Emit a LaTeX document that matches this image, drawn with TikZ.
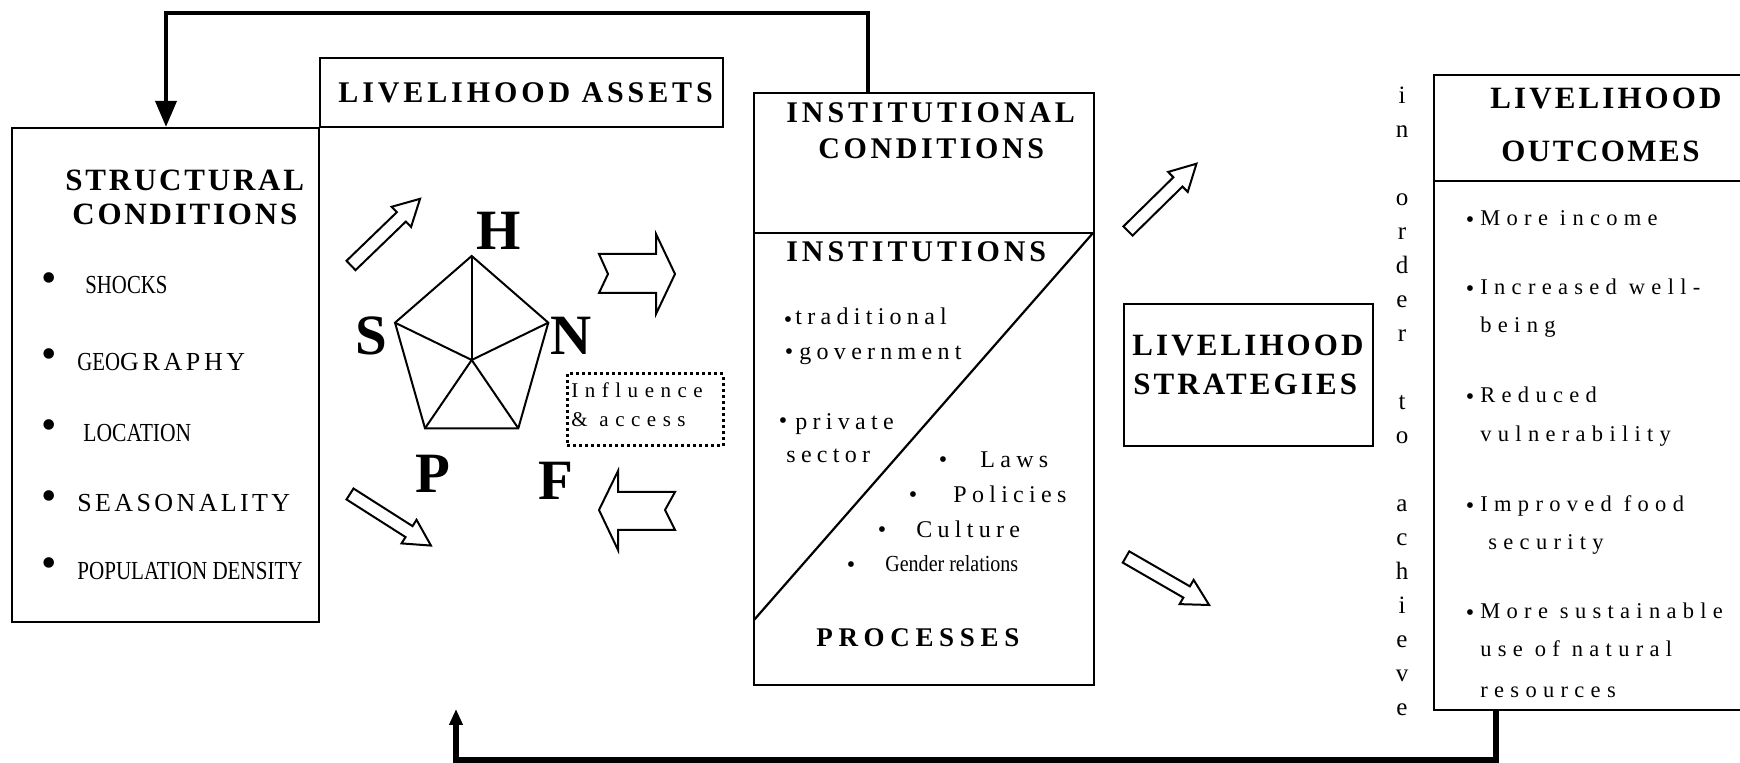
\documentclass[tikz,border=0pt]{standalone}
\usepackage{fontspec}
\setmainfont{Liberation Serif}
\usepackage{graphicx}
\usetikzlibrary{arrows.meta,fit,calc}
\newcommand\hfnt[2]{\fontsize{#1}{#1}\selectfont\bfseries\addfontfeatures{LetterSpace=#2}}
\newcommand\rfnt[2]{\fontsize{#1}{#1}\selectfont\addfontfeatures{LetterSpace=#2}}
\begin{document}
\begin{tikzpicture}[x=0.5pt,y=-0.5pt,
  box/.style={draw, line width=1.1pt, inner sep=0pt},
  txt/.style={inner sep=0pt, anchor=base west},
  bul/.style={inner sep=0pt, anchor=center},
  bigbul/.style={inner sep=0pt, anchor=center, font=\fontsize{22}{22}\selectfont},
  smbul/.style={inner sep=0pt, anchor=center, font=\fontsize{12}{12}\selectfont},
  thinln/.style={line width=1pt, line join=miter},
  fb/.style={line width=2pt, line join=miter},
  fbb/.style={line width=2.6pt, line join=miter},
  big/.style={inner sep=0pt, anchor=base west, font=\fontsize{28.5}{28.5}\selectfont\bfseries},
  hollow/.pic={\draw[thinln] (0,-6.5) -- (70,-6.5) -- (70,-14) -- (96,0) -- (70,14) -- (70,6.5) -- (0,6.5) -- cycle;}
]
\useasboundingbox (0,0) rectangle (1740,763);
\clip (0,0) rectangle (1740,763);

% boxes
\node[box, fit={(12,128) (319,622)}] (struct) {};
\node[box, fit={(320,58) (723,127)}] (assets) {};
\node[box, fit={(754,93) (1094,685)}] (inst) {};
\node[box, fit={(1124,304) (1373,446)}] (strat) {};
\node[box, fit={(1434,75) (1760,710)}] (outc) {};
\draw[line width=1.1pt] (inst.west |- 0,233) -- (inst.east |- 0,233);
\draw[line width=1.1pt] (1093,233) -- (754,620);
\draw[line width=1.1pt] (outc.west |- 0,181) -- (1760,181);
\node[inner sep=0pt, draw, line width=1.5pt, dash pattern=on 1.5pt off 1.5pt, fit={(567,374) (723,446)}] (infl) {};

% feedback connectors
\coordinate (topL) at (166,13);
\coordinate (topR) at (868,13);
\draw[fb, -{Triangle[length=13pt,width=10.5pt]}] (inst.north -| topR) -- (topR) -- (topL) -- (struct.north -| topL);
\coordinate (botR) at (1496,760);
\coordinate (botL) at (456,760);
\coordinate (botE) at (456,709);
\draw[fbb, -{Triangle[length=8pt,width=6.5pt]}] (outc.south -| botR) -- (botR) -- (botL) -- (botE);

% headings
\node[txt, font=\hfnt{15}{13}] (tla) at (338,103) {LIVELIHOOD ASSETS};
\node[txt, font=\hfnt{15.5}{9}] (ts1) at (65,191) {STRUCTURAL};
\node[txt, font=\hfnt{15.5}{9}] (ts2) at (72,225) {CONDITIONS};
\node[txt, font=\hfnt{15}{13}] (ti1) at (786,123) {INSTITUTIONAL};
\node[txt, font=\hfnt{15}{12}] (ti2) at (818,159) {CONDITIONS};
\node[txt, font=\hfnt{15}{13}] (ti3) at (786,262) {INSTITUTIONS};
\node[txt, font=\hfnt{13.5}{21}] (tpr) at (816,647) {PROCESSES};
\node[txt, font=\hfnt{15.5}{10}] (tst1) at (1132,356) {LIVELIHOOD};
\node[txt, font=\hfnt{15.5}{10}] (tst2) at (1133,395) {STRATEGIES};
\node[txt, font=\hfnt{15.5}{10}] (to1) at (1490,109) {LIVELIHOOD};
\node[txt, font=\hfnt{15.5}{8}] (to2) at (1501,162) {OUTCOMES};

% structural list
\foreach \yy in {283,359,430,501,568} \node[bigbul] at (49,\yy) {\textbullet};
\node[txt, font=\fontsize{13}{13}\selectfont] (s1) at (85,294) {\scalebox{0.8}[1]{SHOCKS}};
\node[txt, font=\fontsize{13}{13}\selectfont] (s2) at (77,371) {\scalebox{0.8}[1]{GEO}{\addfontfeatures{LetterSpace=14}GRAPHY}};
\node[txt, font=\fontsize{13}{13}\selectfont] (s3) at (83,442) {\scalebox{0.83}[1]{LOCATION}};
\node[txt, font=\rfnt{13}{13}] (s4) at (77,512) {SEASONALITY};
\node[txt, font=\fontsize{13}{13}\selectfont] (s5) at (77,580) {\scalebox{0.81}[1]{POPULATION DENSITY}};

% pentagon
\coordinate (pH) at (471.7,256);
\coordinate (pN) at (548.3,322.7);
\coordinate (pF) at (518.3,428.3);
\coordinate (pP) at (425,428.3);
\coordinate (pS) at (395,322.7);
\coordinate (pC) at (471.7,360);
\draw[thinln] (pH) -- (pN) -- (pF) -- (pP) -- (pS) -- cycle;
\foreach \v in {pH,pN,pF,pP,pS} \draw[thinln] (pC) -- (\v);
\node[big] (lH) at (476,250) {H};
\node[big] (lS) at (355,355) {S};
\node[big] (lN) at (550,355) {N};
\node[big] (lP) at (415,493) {P};
\node[big] (lF) at (538,500) {F};
\node[txt, font=\rfnt{10.5}{31}] (inf1) at (571,398) {Influence};
\node[txt, font=\rfnt{10.5}{31}] (inf2) at (571,427) {\&~access};

% hollow arrows
\pic[rotate=44] at (351,265.5) {hollow};
\pic[rotate=-32.5] at (350,494) {hollow};
\pic[rotate=44.5] at (1128,231) {hollow};
\pic[rotate=-30] at (1126,557) {hollow};
\draw[thinln] (599,254) -- (656,254) -- (656,234) -- (675,274) -- (656,314) -- (656,293) -- (599,293) -- (608,274) -- cycle;
\draw[thinln] (599,510) -- (618,471) -- (618,492) -- (675,492) -- (665,510) -- (675,530) -- (618,530) -- (618,550) -- cycle;

% institutions list
\node[smbul] at (788,322) {\textbullet};
\node[smbul] at (789,354) {\textbullet};
\node[smbul] at (783,423) {\textbullet};
\node[smbul] at (943,462) {\textbullet};
\node[smbul] at (913,497) {\textbullet};
\node[smbul] at (882,532) {\textbullet};
\node[smbul] at (851,567) {\textbullet};
\node[txt, font=\rfnt{12}{22}] (i1) at (795,325) {traditional};
\node[txt, font=\rfnt{12}{22}] (i2) at (799,360) {government};
\node[txt, font=\rfnt{12}{22}] (i3) at (795,430) {private};
\node[txt, font=\rfnt{12}{22}] (i4) at (786,463) {sector};
\node[txt, font=\rfnt{12}{22}] (i5) at (980,468) {Laws};
\node[txt, font=\rfnt{12}{22}] (i6) at (953,503) {Policies};
\node[txt, font=\rfnt{12}{22}] (i7) at (916,538) {Culture};
\node[txt, font=\fontsize{11.5}{11.5}\selectfont] (i8) at (885,572) {\scalebox{0.87}[1]{Gender relations}};

% vertical text
\foreach \ch/\yy in {i/104,n/138,o/206,r/240,d/274,e/308,r/342,t/410,o/444,a/512,c/546,h/580,i/614,e/648,v/682,e/716}
  \node[inner sep=0pt, anchor=base, font=\fontsize{12.5}{12.5}\selectfont] (v\yy) at (1402,\yy) {\ch};

% outcomes list
\foreach \yy in {226,295,403,512,619} \node[smbul] at (1470,\yy-3.5) {\textbullet};
\node[txt, font=\rfnt{11.25}{28}] (o1) at (1480,226) {More income};
\node[txt, font=\rfnt{11.25}{28}] (o2) at (1480,295) {Increased well-};
\node[txt, font=\rfnt{11.25}{28}] (o3) at (1480,333) {being};
\node[txt, font=\rfnt{11.25}{28}] (o4) at (1480,403) {Reduced};
\node[txt, font=\rfnt{11.25}{28}] (o5) at (1480,442) {vulnerability};
\node[txt, font=\rfnt{11.25}{28}] (o6) at (1480,512) {Improved food};
\node[txt, font=\rfnt{11.25}{28}] (o7) at (1488,550) {security};
\node[txt, font=\rfnt{11.25}{28}] (o8) at (1480,619) {More sustainable};
\node[txt, font=\rfnt{11.25}{28}] (o9) at (1480,657) {use of natural};
\node[txt, font=\rfnt{11.25}{28}] (o10) at (1480,698) {resources};
\end{tikzpicture}
\end{document}
